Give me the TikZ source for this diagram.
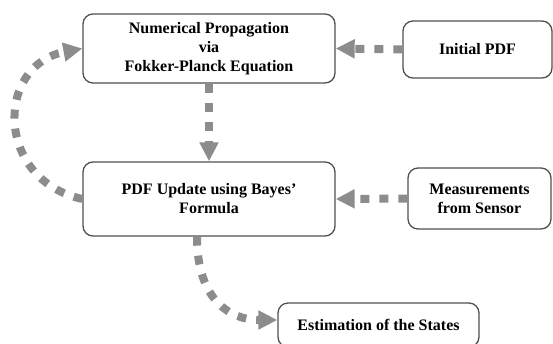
\documentclass[tikz,border=0pt]{standalone}
\usepackage{fontspec}
\setmainfont{Liberation Serif}
\usetikzlibrary{arrows.meta}
\definecolor{flowgray}{HTML}{8C8C8C}
\definecolor{boxline}{HTML}{505050}
\begin{document}
\begin{tikzpicture}[x=1pt,y=-1pt,
  box/.style={draw=boxline, line width=1.3pt, rounded corners=10pt, fill=white,
    align=center, font=\fontsize{16}{19}\selectfont\bfseries, inner sep=0pt},
  flow/.style={draw=flowgray, line width=8pt, dash pattern=on 9pt off 10pt,
    -{Triangle[length=19pt,width=18pt]}}]
\useasboundingbox (0,0) rectangle (553,343);
\clip (0,0) rectangle (553,343);

% boxes
\node[box, minimum width=252pt, minimum height=69pt] (prop) at (209,48.5)
  {Numerical Propagation\\via\\Fokker-Planck Equation};
\node[box, minimum width=149pt, minimum height=57pt] (init) at (477.5,49.5)
  {Initial PDF};
\node[box, minimum width=252pt, minimum height=74pt] (upd) at (209,199)
  {PDF Update using Bayes'\\Formula};
\node[box, minimum width=143pt, minimum height=61pt] (meas) at (479.5,198.5)
  {Measurements\\from Sensor};
\node[box, minimum width=201pt, minimum height=44pt] (est) at (378.5,325)
  {Estimation of the States};

% flows
\draw[flow] (init.west) -- (prop.east);
\draw[flow] (prop.south) -- (upd.north);
\draw[flow] (meas.west) -- (upd.east);
\draw[flow] (upd.west) .. controls (-5,180) and (-5,65) .. (prop.west);
\draw[flow] ([xshift=-12pt]upd.south) .. controls (197,300) and (230,320) .. ([yshift=5pt]est.west);
\end{tikzpicture}
\end{document}
